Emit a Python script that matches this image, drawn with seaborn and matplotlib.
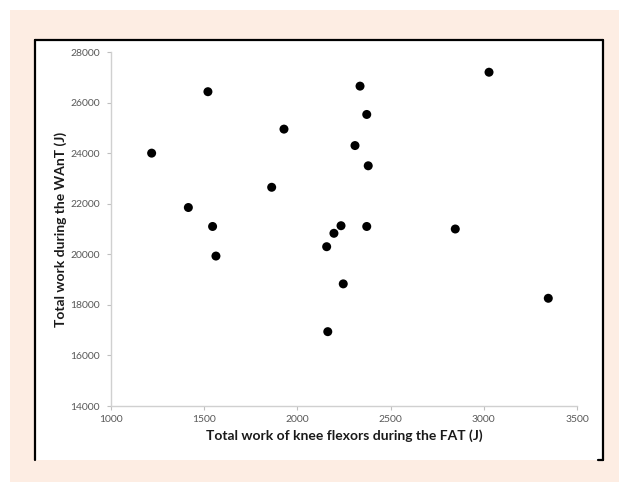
import matplotlib
matplotlib.use("Agg")
import matplotlib.pyplot as plt
import seaborn as sns
import pandas as pd
from matplotlib.lines import Line2D
from matplotlib.patches import Rectangle

# -------------------------
# Data
# -------------------------
fat_work = [1218, 1520, 1415, 1545, 1563, 1862, 1928, 2157, 2163, 2196,
            2234, 2246, 2309, 2336, 2372, 2372, 2380, 2847, 3028, 3346]
want_work = [24000, 26430, 21850, 21100, 19930, 22650, 24950, 20300, 16940, 20830,
             21130, 18830, 24300, 26650, 25530, 21100, 23500, 21000, 27200, 18260]

x_ticks = [1000, 1500, 2000, 2500, 3000, 3500]
y_ticks = [14000, 16000, 18000, 20000, 22000, 24000, 26000, 28000]

df = pd.DataFrame({"fat": fat_work, "want": want_work})

sns.set_theme(style="white")
plt.rcParams["font.family"] = ["Lato", "DejaVu Sans"]

W, H = 619, 482
fig = plt.figure(figsize=(W / 100, H / 100), dpi=100)
fig.patch.set_facecolor("white")

# peach frame + white panel with black border
fig.patches.append(Rectangle((10 / W, 0), 1, 1 - 10 / H, transform=fig.transFigure,
                             facecolor="#fdede3", edgecolor="none", zorder=-3))
fig.patches.append(Rectangle((35 / W, 1 - 460 / H), (603 - 35) / W, (460 - 40) / H,
                             transform=fig.transFigure, facecolor="white",
                             edgecolor="none", zorder=-2))
bx0, bx1 = 35 / W, 603 / W
by0, by1 = 1 - 460 / H, 1 - 40 / H
for xs, ys in [([bx0, bx0], [by0, by1]), ([bx0, bx1], [by1, by1]),
               ([bx1, bx1], [by1, by0]), ([bx1 - 5 / W, bx1], [by0, by0])]:
    fig.lines.append(Line2D(xs, ys, transform=fig.transFigure, color="black", lw=1.6))

ax = fig.add_axes([111 / W, 1 - 406 / H, 466 / W, 354 / H])
ax.set_facecolor("none")
sns.scatterplot(data=df, x="fat", y="want", ax=ax, color="black", s=42,
                edgecolor="none", legend=False)

ax.set_xlim(1000, 3500)
ax.set_ylim(14000, 28000)
ax.set_xticks(x_ticks)
ax.set_yticks(y_ticks)
ax.tick_params(axis="both", labelsize=7.5, labelcolor="#595959", color="#bfbfbf",
               length=3, width=0.8, direction="out", bottom=True, left=True)
ax.tick_params(axis="y", pad=5)

for s in ["top", "right"]:
    ax.spines[s].set_visible(False)
for s in ["left", "bottom"]:
    ax.spines[s].set_color("#d0d0d0")
    ax.spines[s].set_linewidth(1.0)

ax.set_xlabel("Total work of knee flexors during the FAT (J)", fontsize=10,
              fontweight="bold", color="#1a1a1a", labelpad=4)
ax.set_ylabel("Total work during the WAnT (J)", fontsize=10,
              fontweight="bold", color="#1a1a1a", labelpad=2)

plt.savefig("out.png", dpi=100)
plt.close()
